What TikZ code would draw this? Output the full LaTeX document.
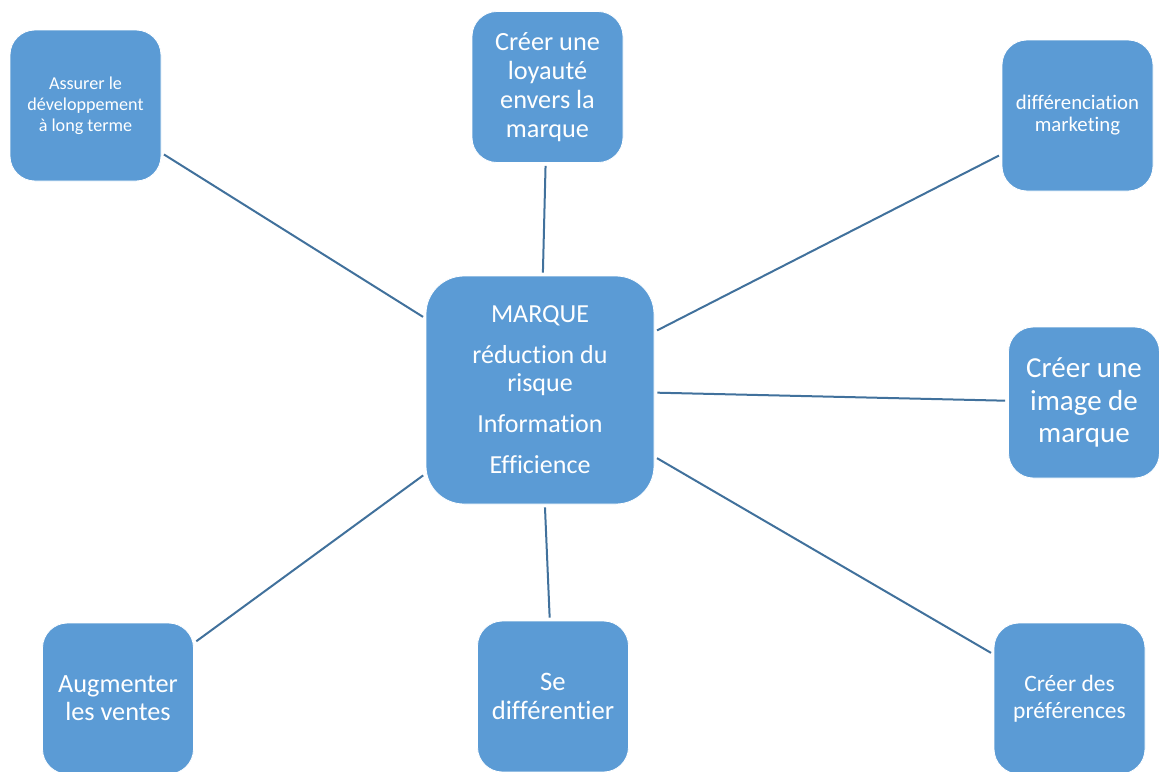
\documentclass[tikz,border=0pt]{standalone}
\usepackage{fontspec}
\setmainfont{Carlito}[Ligatures=NoCommon]
\definecolor{boxfill}{HTML}{5B9BD5}
\definecolor{linkcol}{HTML}{41719C}
\begin{document}
\begin{tikzpicture}[x=0.75pt,y=-0.75pt,
  leaf/.style={draw=white, line width=0.6pt, fill=boxfill, text=white,
    rounded corners=18.75pt, minimum width=113.25pt, minimum height=113.25pt,
    inner sep=0pt, align=center},
  hub/.style={leaf, rounded corners=28.5pt, minimum width=171pt, minimum height=171pt},
  link/.style={draw=linkcol, line width=1.5pt, shorten <=2.25pt, shorten >=2.25pt}]
\useasboundingbox (0,0) rectangle (1159,771);

% centre
\node[hub, font=\fontsize{19.5}{21}\selectfont] (m) at (540,390)
  {MARQUE\\[9.75pt]réduction du\\risque\\[9.75pt]Information\\[9.75pt]Efficience};

% surrounding boxes
\node[leaf, font=\fontsize{13.6}{15.75}\selectfont] (a) at (85.5,105.5)
  {Assurer le\\développement\\à long terme};
\node[leaf, font=\fontsize{19.7}{21.75}\selectfont] (b) at (547.5,87)
  {Créer une\\loyauté\\envers la\\marque};
\node[leaf, font=\fontsize{15.6}{16.5}\selectfont] (c) at (1077.5,115.5)
  {différenciation\\marketing};
\node[leaf, font=\fontsize{21.75}{24.4}\selectfont] (d) at (1084,402.5)
  {Créer une\\image de\\marque};
\node[leaf, font=\fontsize{17.6}{20.25}\selectfont] (e) at (1069.5,698.5)
  {Créer des\\préférences};
\node[leaf, font=\fontsize{20}{21.75}\selectfont] (f) at (553,696.5)
  {Se\\différentier};
\node[leaf, font=\fontsize{19.7}{21}\selectfont] (g) at (118,698.5)
  {Augmenter\\les ventes};

% connectors
\foreach \n in {a,b,c,d,e,f,g}
  \draw[link] (\n) -- (m);
\end{tikzpicture}
\end{document}
